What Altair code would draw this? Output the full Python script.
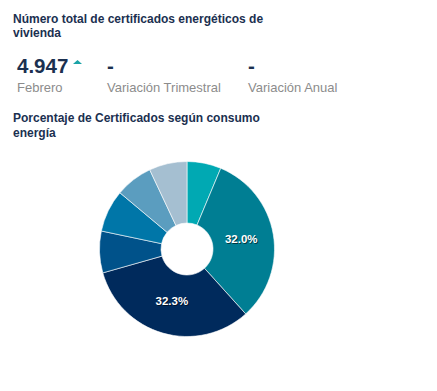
import altair as alt
import pandas as pd

# ---- data ----
categories = ["A", "B", "C", "D", "E", "F", "G"]
percentages = [6.3, 32.0, 32.3, 7.7, 7.8, 6.9, 7.0]
slice_colors = ["#00A9B3", "#007E93", "#002A5C", "#00528A", "#0076A8", "#5B9DBF", "#A5BFD1"]

title_1 = ["Número total de certificados energéticos de", "vivienda"]
title_2 = ["Porcentaje de Certificados según consumo", "energía"]
kpi_values = ["4.947", "-", "-"]
kpi_labels = ["Febrero", "Variación Trimestral", "Variación Anual"]

W, H = 421, 375
FONT = "Liberation Sans"
NAVY = "#1b3050"
GREY = "#8c8c8c"

df = pd.DataFrame({"cat": categories, "pct": percentages, "idx": list(range(len(categories)))})
one = pd.DataFrame({"k": [0]})

cx, cy = 179, 241

pie = alt.Chart(df).mark_arc(innerRadius=26, outerRadius=87.5, stroke="#ffffff", strokeWidth=0.6).encode(
    theta=alt.Theta("pct:Q", stack=True),
    color=alt.Color("cat:N", scale=alt.Scale(domain=categories, range=slice_colors), legend=None),
    order=alt.Order("idx:Q"),
    x=alt.value(cx), y=alt.value(cy),
)

lab_base = alt.Chart(df).transform_calculate(
    label="datum.pct >= 20 ? format(datum.pct, '.1f') + '%' : ''"
)
shadow = lab_base.mark_text(radius=55, font=FONT, fontSize=11.5, fontWeight="bold", color="#000000",
                            opacity=0.55, dx=1, dy=1, baseline="middle").encode(
    theta=alt.Theta("pct:Q", stack=True), order=alt.Order("idx:Q"), text="label:N",
    x=alt.value(cx), y=alt.value(cy),
)
labels = lab_base.mark_text(radius=55, font=FONT, fontSize=11.5, fontWeight="bold", color="#ffffff",
                            baseline="middle").encode(
    theta=alt.Theta("pct:Q", stack=True), order=alt.Order("idx:Q"), text="label:N",
    x=alt.value(cx), y=alt.value(cy),
)


def txt(s, x, y, size, weight="normal", color=NAVY):
    return alt.Chart(one).mark_text(font=FONT, fontSize=size, fontWeight=weight, color=color,
                                    align="left", baseline="alphabetic").encode(
        x=alt.value(x), y=alt.value(y), text=alt.value(s))


layers = [
    txt(title_1[0], 5, 14.5, 12, "bold"),
    txt(title_1[1], 5, 29, 12, "bold"),
    txt(kpi_values[0], 9, 64.5, 20.5, "bold"),
    txt(kpi_values[1], 99, 64.5, 20.5, "bold"),
    txt(kpi_values[2], 240, 64.5, 20.5, "bold"),
    txt(kpi_labels[0], 9, 83.5, 13, color=GREY),
    txt(kpi_labels[1], 99, 83.5, 13, color=GREY),
    txt(kpi_labels[2], 240, 83.5, 13, color=GREY),
    txt(title_2[0], 5, 114, 12, "bold"),
    txt(title_2[1], 5, 128.5, 12, "bold"),
]

tri = alt.Chart(one).mark_point(shape="M-1,0.45L1,0.45L0,-0.45Z", filled=True, color="#1aa3a6",
                                opacity=1, size=81, strokeWidth=0).encode(
    x=alt.value(69.5), y=alt.value(54))

chart = alt.layer(pie, shadow, labels, tri, *layers).properties(
    width=W, height=H, padding=0
).configure_view(stroke=None)

chart.save("out.html", embed_options={"renderer": "svg", "actions": False})
